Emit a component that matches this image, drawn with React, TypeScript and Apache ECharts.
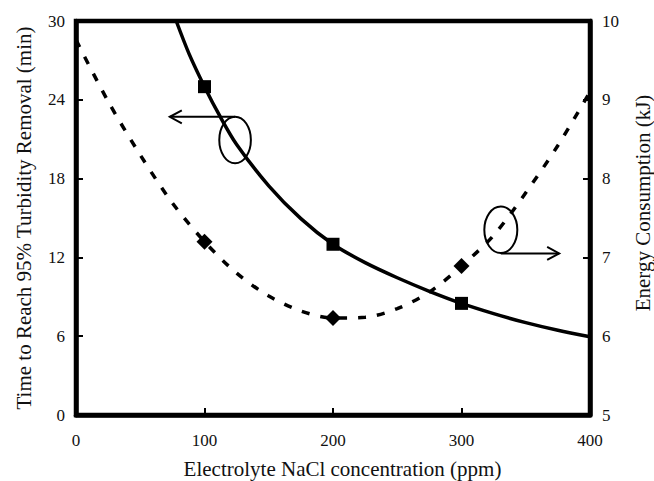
import { useEffect, useRef } from "react";
import * as echarts from "echarts";

// ---- data ----
const concentrations = [100, 200, 300];
const timeMeasured = [25, 13, 8.5];
const energyMeasured = [7.2, 6.23, 6.89];

// solid fitted curve (left axis)
const timeCurveX = [78, 88, 100, 112, 125, 150, 175, 200, 225, 250, 275, 300, 325, 350, 375, 400];
const timeCurveY = [30, 27.5, 25, 22.75, 20.6, 17.45, 14.95, 13.0, 11.6, 10.45, 9.42, 8.5, 7.72, 7.03, 6.45, 5.96];

// dashed fitted curve (right axis)
const energyCurveX = [0, 25, 50, 75, 100, 125, 150, 175, 200, 225, 250, 275, 300, 325, 350, 375, 400];
const energyCurveY = [9.76, 8.98, 8.3, 7.69, 7.2, 6.8, 6.51, 6.32, 6.23, 6.24, 6.35, 6.56, 6.89, 7.28, 7.82, 8.42, 9.1];

// annotation anchors in data space: [x, y]
const leftEllipseCenter = [123.8, 20.94]; // left axis
const leftArrowFrom = [123.8, 22.7];
const leftArrowTip = [73, 22.7];
const rightEllipseCenter = [330.6, 7.35]; // right axis
const rightArrowFrom = [330.6, 7.05];
const rightArrowTip = [376, 7.05];

const FONT = "Liberation Serif";

export default function App() {
  const ref = useRef<HTMLDivElement>(null);

  useEffect(() => {
    if (!ref.current) return;
    const chart = echarts.init(ref.current, undefined, { renderer: "svg" });

    const tickLabel = { fontFamily: FONT, fontSize: 17, color: "#111" };
    const nameStyle = { fontFamily: FONT, fontSize: 21, color: "#111" };
    const axisLine = { show: true, lineStyle: { color: "#000", width: 4.5 } };
    const axisTick = { show: true, inside: true, length: 7, lineStyle: { color: "#000", width: 2 } };

    chart.setOption({
      animation: false,
      backgroundColor: "#fff",
      grid: {
        left: 76,
        right: 64,
        top: 21,
        bottom: 66,
        containLabel: false,
        outerBoundsMode: "none",
        show: true,
        borderColor: "#000",
        borderWidth: 4.5,
      },
      xAxis: {
        type: "value",
        min: 0,
        max: 400,
        interval: 100,
        name: "Electrolyte NaCl concentration (ppm)",
        nameLocation: "middle",
        nameGap: 43,
        nameTextStyle: { ...nameStyle, padding: [0, 0, 0, 19] },
        axisLine,
        axisTick,
        axisLabel: { ...tickLabel, margin: 17 },
        splitLine: { show: false },
      },
      yAxis: [
        {
          type: "value",
          position: "left",
          min: 0,
          max: 30,
          interval: 6,
          name: "Time to Reach 95% Turbidity Removal (min)",
          nameLocation: "middle",
          nameRotate: 90,
          nameGap: 42,
          nameTextStyle: nameStyle,
          axisLine,
          axisTick,
          axisLabel: { ...tickLabel, margin: 11 },
          splitLine: { show: false },
        },
        {
          type: "value",
          position: "right",
          min: 5,
          max: 10,
          interval: 1,
          name: "Energy Consumption (kJ)",
          nameLocation: "middle",
          nameRotate: 90,
          nameGap: 42,
          nameTextStyle: { ...nameStyle, padding: [0, 0, 0, 30] },
          axisLine,
          axisTick,
          axisLabel: { ...tickLabel, margin: 12 },
          splitLine: { show: false },
        },
      ],
      series: [
        {
          name: "Time fit",
          type: "line",
          yAxisIndex: 0,
          data: timeCurveX.map((x, i) => [x, timeCurveY[i]]),
          smooth: 0.3,
          showSymbol: false,
          lineStyle: { color: "#000", width: 3.5 },
          z: 3,
        },
        {
          name: "Energy fit",
          type: "line",
          yAxisIndex: 1,
          data: energyCurveX.map((x, i) => [x, energyCurveY[i]]),
          smooth: 0.3,
          showSymbol: false,
          lineStyle: { color: "#000", width: 3.5, type: [8, 11], cap: "butt" },
          z: 3,
        },
        {
          name: "Time",
          type: "scatter",
          yAxisIndex: 0,
          data: concentrations.map((x, i) => [x, timeMeasured[i]]),
          symbol: "rect",
          symbolSize: 13,
          itemStyle: { color: "#000", opacity: 1 },
          z: 4,
        },
        {
          name: "Energy",
          type: "scatter",
          yAxisIndex: 1,
          data: concentrations.map((x, i) => [x, energyMeasured[i]]),
          symbol: "diamond",
          symbolSize: 16,
          itemStyle: { color: "#000", opacity: 1 },
          z: 4,
        },
      ],
    });

    const L = (p: number[]) => chart.convertToPixel({ xAxisIndex: 0, yAxisIndex: 0 }, p) as number[];
    const R = (p: number[]) => chart.convertToPixel({ xAxisIndex: 0, yAxisIndex: 1 }, p) as number[];
    const stroke = { fill: "none", stroke: "#000", lineWidth: 2 };

    const arrow = (from: number[], tip: number[]) => {
      const dir = Math.sign(tip[0] - from[0]);
      const back = 12;
      const half = 6.5;
      return [
        { type: "polyline", shape: { points: [from, tip] }, style: stroke, z: 10 },
        {
          type: "polyline",
          shape: {
            points: [
              [tip[0] - dir * back, tip[1] - half],
              tip,
              [tip[0] - dir * back, tip[1] + half],
            ],
          },
          style: stroke,
          z: 10,
        },
      ];
    };

    const lc = L(leftEllipseCenter);
    const rc = R(rightEllipseCenter);
    chart.setOption({
      graphic: [
        { type: "ellipse", shape: { cx: lc[0], cy: lc[1], rx: 15.8, ry: 23.3 }, style: stroke, z: 10 },
        ...arrow(L(leftArrowFrom), L(leftArrowTip)),
        { type: "ellipse", shape: { cx: rc[0], cy: rc[1], rx: 16.5, ry: 23.3 }, style: stroke, z: 10 },
        ...arrow(R(rightArrowFrom), R(rightArrowTip)),
      ],
    });

    return () => chart.dispose();
  }, []);

  return (
    <div
      ref={ref}
      style={{ position: "absolute", left: 0, top: 0, width: 654, height: 481, background: "#fff" }}
    />
  );
}
